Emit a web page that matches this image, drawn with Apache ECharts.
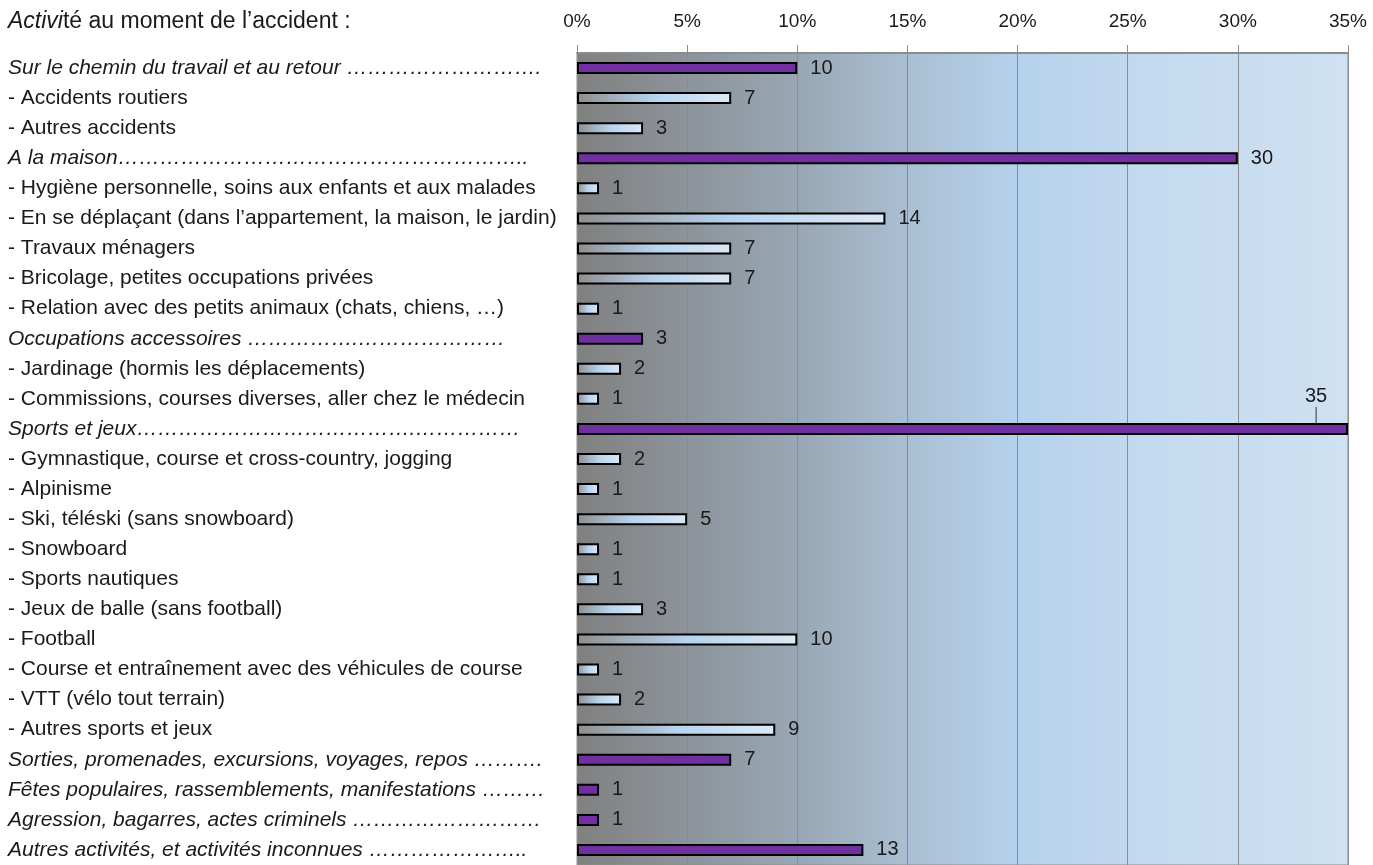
<!DOCTYPE html>
<html>
<head>
<meta charset="utf-8">
<script src="https://cdn.jsdelivr.net/npm/echarts@6/dist/echarts.min.js"></script>
<style>
  html, body { margin: 0; padding: 0; background: #fff; }
  #chart { width: 1373px; height: 865px; }
</style>
</head>
<body>
<div id="chart"></div>
<script>
// categories, top to bottom (main = italic / purple bar)
const categories = [
  'Sur le chemin du travail et au retour ……………………….',
  '- Accidents routiers',
  '- Autres accidents',
  'A la maison…………………………………………………..',
  '- Hygiène personnelle, soins aux enfants et aux malades',
  '- En se déplaçant (dans l’appartement, la maison, le jardin)',
  '- Travaux ménagers',
  '- Bricolage, petites occupations privées',
  '- Relation avec des petits animaux (chats, chiens, …)',
  'Occupations accessoires …………….…………………',
  '- Jardinage (hormis les déplacements)',
  '- Commissions, courses diverses, aller chez le médecin',
  'Sports et jeux………………………………….……………',
  '- Gymnastique, course et cross-country, jogging',
  '- Alpinisme',
  '- Ski, téléski (sans snowboard)',
  '- Snowboard',
  '- Sports nautiques',
  '- Jeux de balle (sans football)',
  '- Football',
  '- Course et entraînement avec des véhicules de course',
  '- VTT (vélo tout terrain)',
  '- Autres sports et jeux',
  'Sorties, promenades, excursions, voyages, repos ……….',
  'Fêtes populaires, rassemblements, manifestations ………',
  'Agression, bagarres, actes criminels ………………………',
  'Autres activités, et activités inconnues …………………..'
];
const isMain = [
  true, false, false, true, false, false, false, false, false,
  true, false, false, true, false, false, false, false, false,
  false, false, false, false, false, true, true, true, true
];
const values = [
  10, 7, 3, 30, 1, 14, 7, 7, 1,
  3, 2, 1, 35, 2, 1, 5, 1, 1,
  3, 10, 1, 2, 9, 7, 1, 1, 13
];
const xTicks = [0, 5, 10, 15, 20, 25, 30, 35];

const FONT = 'Liberation Sans, Arial';
const TXT = '#1a1a1a';
const xMax = xTicks[xTicks.length - 1];

const chart = echarts.init(document.getElementById('chart'));

const subFill = new echarts.graphic.LinearGradient(0, 0, 1, 0, [
  { offset: 0, color: '#8e8e8e' },
  { offset: 0.5, color: '#b6d3ef' },
  { offset: 1, color: '#dce9f6' }
]);

const option = {
  animation: false,
  backgroundColor: '#ffffff',
  title: {
    left: 8,
    top: 10,
    padding: 0,
    text: '{i|Activi}{n|té au moment de l’accident :}',
    textStyle: {
      rich: {
        i: { fontFamily: FONT, fontSize: 23, fontStyle: 'italic', fontWeight: 'normal', color: TXT },
        n: { fontFamily: FONT, fontSize: 23, fontWeight: 'normal', color: TXT }
      }
    }
  },
  grid: {
    left: 577,
    right: 25,
    top: 53,
    height: 814,
    show: true,
    borderColor: '#8c8c8c',
    borderWidth: 1,
    backgroundColor: new echarts.graphic.LinearGradient(0, 0, 1, 0, [
      { offset: 0, color: '#808080' },
      { offset: 0.28, color: '#98a6b3' },
      { offset: 0.43, color: '#aabfd3' },
      { offset: 0.57, color: '#b5d1eb' },
      { offset: 0.75, color: '#c4daef' },
      { offset: 1, color: '#cfe1f2' }
    ])
  },
  xAxis: {
    type: 'value',
    position: 'top',
    min: xTicks[0],
    max: xMax,
    interval: 5,
    axisLine: { show: true, lineStyle: { color: '#8c8c8c', width: 2 } },
    axisTick: { show: true, length: 8, lineStyle: { color: '#8c8c8c' } },
    axisLabel: {
      margin: 22,
      formatter: '{value}%',
      fontFamily: FONT,
      fontSize: 19,
      color: TXT
    },
    splitLine: { show: true, lineStyle: { color: '#8c8c8c', width: 1 } }
  },
  yAxis: {
    type: 'category',
    inverse: true,
    data: categories,
    axisLine: { show: false },
    axisTick: { show: false },
    axisLabel: {
      align: 'left',
      margin: 569,
      fontFamily: FONT,
      fontSize: 21,
      color: TXT,
      formatter: (v, i) => isMain[i] ? '{it|' + v + '}' : '{n|' + v + '}',
      rich: {
        it: { fontStyle: 'italic', fontFamily: FONT, fontSize: 21, color: TXT },
        n: { fontFamily: FONT, fontSize: 21, color: TXT }
      }
    }
  },
  series: [{
    type: 'bar',
    barWidth: 12,
    data: values.map((v, i) => ({
      value: v,
      itemStyle: {
        color: isMain[i] ? '#7030a0' : subFill,
        borderColor: '#000000',
        borderWidth: 2
      },
      labelLine: { show: v === xMax, lineStyle: { color: '#333333', width: 1 } }
    })),
    label: {
      show: true,
      position: 'right',
      distance: 13,
      fontFamily: FONT,
      fontSize: 20,
      color: TXT
    },
    labelLayout: (p) => {
      if (values[p.dataIndex] === xMax) {
        return { dx: -56, dy: -32 };
      }
    }
  }]
};

chart.setOption(option);
</script>
</body>
</html>
